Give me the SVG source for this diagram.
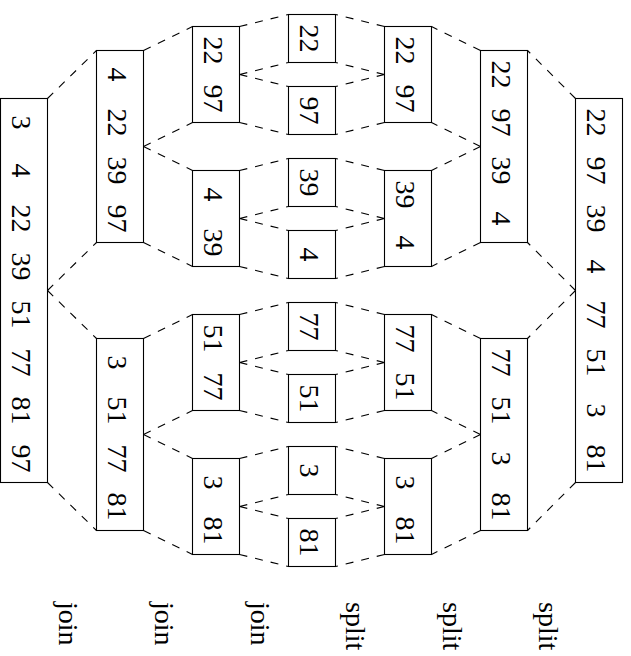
<svg xmlns="http://www.w3.org/2000/svg" width="631" height="656" viewBox="0 0 631 656">
<style>
.box{fill:#fff;stroke:#000;stroke-width:1.1}
.num{font-family:"Liberation Serif","Times New Roman",serif;font-size:28px;fill:#000;text-anchor:middle}
.lbl{font-family:"Liberation Serif","Times New Roman",serif;font-size:28px;fill:#000}
.dash{fill:none;stroke:#000;stroke-width:1.1;stroke-dasharray:8 8}
</style>
<rect width="631" height="656" fill="#fff"/>
<g id="connectors" class="dash">
<path d="M47.5,98.5L96.5,50.5M47.5,290.5L96.5,242.5M47.5,290.5L96.5,338.5M47.5,482.5L96.5,530.5"/>
<path d="M143.5,50.5L192.5,26.5M143.5,146.5L192.5,122.5M143.5,146.5L192.5,170.5M143.5,242.5L192.5,266.5M143.5,338.5L192.5,314.5M143.5,434.5L192.5,410.5M143.5,434.5L192.5,458.5M143.5,530.5L192.5,554.5"/>
<path d="M239.5,26.5L288.5,14.5M239.5,74.5L288.5,62.5M239.5,74.5L288.5,86.5M239.5,122.5L288.5,134.5M239.5,170.5L288.5,158.5M239.5,218.5L288.5,206.5M239.5,218.5L288.5,230.5M239.5,266.5L288.5,278.5M239.5,314.5L288.5,302.5M239.5,362.5L288.5,350.5M239.5,362.5L288.5,374.5M239.5,410.5L288.5,422.5M239.5,458.5L288.5,446.5M239.5,506.5L288.5,494.5M239.5,506.5L288.5,518.5M239.5,554.5L288.5,566.5"/>
<path d="M384.5,26.5L335.5,14.5M384.5,74.5L335.5,62.5M384.5,74.5L335.5,86.5M384.5,122.5L335.5,134.5M384.5,170.5L335.5,158.5M384.5,218.5L335.5,206.5M384.5,218.5L335.5,230.5M384.5,266.5L335.5,278.5M384.5,314.5L335.5,302.5M384.5,362.5L335.5,350.5M384.5,362.5L335.5,374.5M384.5,410.5L335.5,422.5M384.5,458.5L335.5,446.5M384.5,506.5L335.5,494.5M384.5,506.5L335.5,518.5M384.5,554.5L335.5,566.5"/>
<path d="M480.5,50.5L431.5,26.5M480.5,146.5L431.5,122.5M480.5,146.5L431.5,170.5M480.5,242.5L431.5,266.5M480.5,338.5L431.5,314.5M480.5,434.5L431.5,410.5M480.5,434.5L431.5,458.5M480.5,530.5L431.5,554.5"/>
<path d="M575.5,98.5L527.5,50.5M575.5,290.5L527.5,242.5M575.5,290.5L527.5,338.5M575.5,482.5L527.5,530.5"/>
</g>
<g id="join3">
<rect class="box" x="0.5" y="98.5" width="47" height="384"/>
<text class="num" transform="translate(11.5,98.5) rotate(90)"><tspan x="24">3</tspan><tspan x="72">4</tspan><tspan x="120">22</tspan><tspan x="168">39</tspan><tspan x="216">51</tspan><tspan x="264">77</tspan><tspan x="312">81</tspan><tspan x="360">97</tspan></text>
</g>
<g id="join2a">
<rect class="box" x="96.5" y="50.5" width="47" height="192"/>
<text class="num" transform="translate(107.5,50.5) rotate(90)"><tspan x="24">4</tspan><tspan x="72">22</tspan><tspan x="120">39</tspan><tspan x="168">97</tspan></text>
</g>
<g id="join2b">
<rect class="box" x="96.5" y="338.5" width="47" height="192"/>
<text class="num" transform="translate(107.5,338.5) rotate(90)"><tspan x="24">3</tspan><tspan x="72">51</tspan><tspan x="120">77</tspan><tspan x="168">81</tspan></text>
</g>
<g id="join1a">
<rect class="box" x="192.5" y="26.5" width="47" height="96"/>
<text class="num" transform="translate(203.5,26.5) rotate(90)"><tspan x="24">22</tspan><tspan x="72">97</tspan></text>
</g>
<g id="join1b">
<rect class="box" x="192.5" y="170.5" width="47" height="96"/>
<text class="num" transform="translate(203.5,170.5) rotate(90)"><tspan x="24">4</tspan><tspan x="72">39</tspan></text>
</g>
<g id="join1c">
<rect class="box" x="192.5" y="314.5" width="47" height="96"/>
<text class="num" transform="translate(203.5,314.5) rotate(90)"><tspan x="24">51</tspan><tspan x="72">77</tspan></text>
</g>
<g id="join1d">
<rect class="box" x="192.5" y="458.5" width="47" height="96"/>
<text class="num" transform="translate(203.5,458.5) rotate(90)"><tspan x="24">3</tspan><tspan x="72">81</tspan></text>
</g>
<g id="s1"><rect class="box" x="288.5" y="14.5" width="47" height="48"/><text class="num" x="24" transform="translate(299.5,14.5) rotate(90)">22</text></g>
<g id="s2"><rect class="box" x="288.5" y="86.5" width="47" height="48"/><text class="num" x="24" transform="translate(299.5,86.5) rotate(90)">97</text></g>
<g id="s3"><rect class="box" x="288.5" y="158.5" width="47" height="48"/><text class="num" x="24" transform="translate(299.5,158.5) rotate(90)">39</text></g>
<g id="s4"><rect class="box" x="288.5" y="230.5" width="47" height="48"/><text class="num" x="24" transform="translate(299.5,230.5) rotate(90)">4</text></g>
<g id="s5"><rect class="box" x="288.5" y="302.5" width="47" height="48"/><text class="num" x="24" transform="translate(299.5,302.5) rotate(90)">77</text></g>
<g id="s6"><rect class="box" x="288.5" y="374.5" width="47" height="48"/><text class="num" x="24" transform="translate(299.5,374.5) rotate(90)">51</text></g>
<g id="s7"><rect class="box" x="288.5" y="446.5" width="47" height="48"/><text class="num" x="24" transform="translate(299.5,446.5) rotate(90)">3</text></g>
<g id="s8"><rect class="box" x="288.5" y="518.5" width="47" height="48"/><text class="num" x="24" transform="translate(299.5,518.5) rotate(90)">81</text></g>
<g id="split1a">
<rect class="box" x="384.5" y="26.5" width="47" height="96"/>
<text class="num" transform="translate(395.5,26.5) rotate(90)"><tspan x="24">22</tspan><tspan x="72">97</tspan></text>
</g>
<g id="split1b">
<rect class="box" x="384.5" y="170.5" width="47" height="96"/>
<text class="num" transform="translate(395.5,170.5) rotate(90)"><tspan x="24">39</tspan><tspan x="72">4</tspan></text>
</g>
<g id="split1c">
<rect class="box" x="384.5" y="314.5" width="47" height="96"/>
<text class="num" transform="translate(395.5,314.5) rotate(90)"><tspan x="24">77</tspan><tspan x="72">51</tspan></text>
</g>
<g id="split1d">
<rect class="box" x="384.5" y="458.5" width="47" height="96"/>
<text class="num" transform="translate(395.5,458.5) rotate(90)"><tspan x="24">3</tspan><tspan x="72">81</tspan></text>
</g>
<g id="split2a">
<rect class="box" x="480.5" y="50.5" width="47" height="192"/>
<text class="num" transform="translate(491.5,50.5) rotate(90)"><tspan x="24">22</tspan><tspan x="72">97</tspan><tspan x="120">39</tspan><tspan x="168">4</tspan></text>
</g>
<g id="split2b">
<rect class="box" x="480.5" y="338.5" width="47" height="192"/>
<text class="num" transform="translate(491.5,338.5) rotate(90)"><tspan x="24">77</tspan><tspan x="72">51</tspan><tspan x="120">3</tspan><tspan x="168">81</tspan></text>
</g>
<g id="split3">
<rect class="box" x="575.5" y="98.5" width="47" height="384"/>
<text class="num" transform="translate(586.5,98.5) rotate(90)"><tspan x="24">22</tspan><tspan x="72">97</tspan><tspan x="120">39</tspan><tspan x="168">4</tspan><tspan x="216">77</tspan><tspan x="264">51</tspan><tspan x="312">3</tspan><tspan x="360">81</tspan></text>
</g>
<g id="labels">
<text class="lbl" transform="translate(59,602) rotate(90)">join</text>
<text class="lbl" transform="translate(155,602) rotate(90)">join</text>
<text class="lbl" transform="translate(251,602) rotate(90)">join</text>
<text class="lbl" transform="translate(346,602) rotate(90)">split</text>
<text class="lbl" transform="translate(443,602) rotate(90)">split</text>
<text class="lbl" transform="translate(539,602) rotate(90)">split</text>
</g>
</svg>
